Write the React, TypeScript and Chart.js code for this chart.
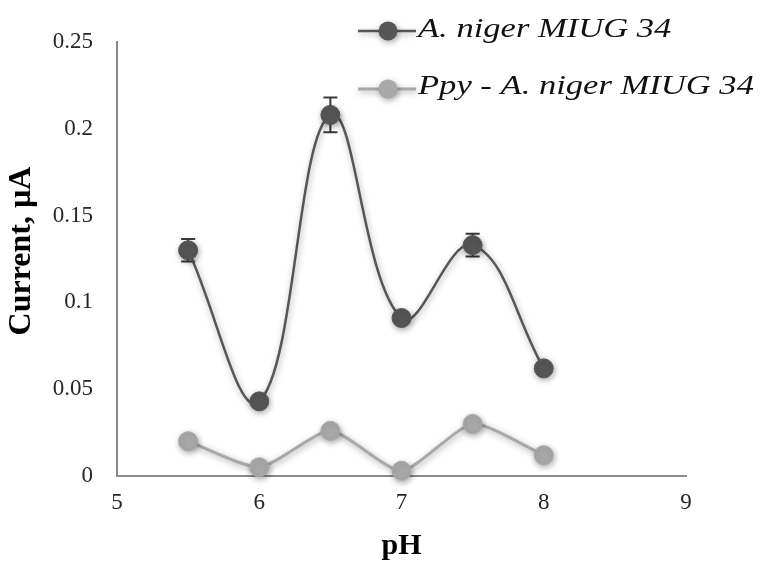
import React, { useEffect, useRef } from 'react';
import { Chart, registerables } from 'chart.js';

Chart.register(...registerables);

// pH values at which the current was measured
const phValues = [5.5, 6, 6.5, 7, 7.5, 8];
// A. niger MIUG 34 – current (µA) and its standard deviation
const nigerCurrent = [0.13, 0.043, 0.208, 0.091, 0.133, 0.062];
const nigerError = [0.0065, 0.003, 0.01, 0.003, 0.0065, 0.003];
// Ppy - A. niger MIUG 34 – current (µA)
const ppyCurrent = [0.02, 0.005, 0.026, 0.003, 0.03, 0.012];

const xTickLabels = ['5', '6', '7', '8', '9'];
const yTickLabels = ['0', '0.05', '0.1', '0.15', '0.2', '0.25'];
const seriesNames = ['A. niger MIUG 34', 'Ppy - A. niger MIUG 34'];

const DARK = '#565656';
const LIGHT = '#a9a9a9';
const SERIF = "'Liberation Serif', serif";

function setShadow(ctx: CanvasRenderingContext2D) {
  ctx.shadowColor = 'rgba(0,0,0,0.35)';
  ctx.shadowBlur = 6;
  ctx.shadowOffsetX = 1;
  ctx.shadowOffsetY = 2;
}

// Vertical error bars with caps, drawn under the markers
const errorBarPlugin = {
  id: 'errorBars',
  beforeDatasetsDraw(chart: any) {
    const { ctx, scales } = chart;
    const x = scales.x;
    const y = scales.y;
    ctx.save();
    ctx.strokeStyle = '#3a3a3a';
    ctx.lineWidth = 2;
    nigerCurrent.forEach((v, i) => {
      const e = nigerError[i];
      const px = x.getPixelForValue(phValues[i]);
      const top = y.getPixelForValue(v + e);
      const bottom = y.getPixelForValue(v - e);
      ctx.beginPath();
      ctx.moveTo(px, top);
      ctx.lineTo(px, bottom);
      ctx.moveTo(px - 7, top);
      ctx.lineTo(px + 7, top);
      ctx.moveTo(px - 7, bottom);
      ctx.lineTo(px + 7, bottom);
      ctx.stroke();
    });
    ctx.restore();
    // soft drop shadow for lines and markers
    ctx.save();
    setShadow(ctx);
  },
  afterDatasetsDraw(chart: any) {
    chart.ctx.restore();
  },
};

// Legend in the top-right corner, overlapping the plot
const legendPlugin = {
  id: 'cornerLegend',
  afterDraw(chart: any) {
    const { ctx } = chart;
    const rows = [
      { y: 31, textY: 30, color: DARK, width: 2.5, text: seriesNames[0] },
      { y: 89, textY: 87, color: LIGHT, width: 3, text: seriesNames[1] },
    ];
    rows.forEach((r) => {
      ctx.save();
      setShadow(ctx);
      ctx.strokeStyle = r.color;
      ctx.lineWidth = r.width;
      ctx.beginPath();
      ctx.moveTo(358, r.y);
      ctx.lineTo(416, r.y);
      ctx.stroke();
      ctx.fillStyle = r.color;
      ctx.beginPath();
      ctx.arc(388, r.y, 9.5, 0, Math.PI * 2);
      ctx.fill();
      ctx.restore();

      ctx.save();
      ctx.translate(418, r.textY);
      ctx.scale(1.28, 1);
      ctx.font = `italic 27px ${SERIF}`;
      ctx.fillStyle = '#111111';
      ctx.textAlign = 'left';
      ctx.textBaseline = 'middle';
      ctx.fillText(r.text, 0, 0);
      ctx.restore();
    });
  },
};

function buildChart(canvas: HTMLCanvasElement) {
  return new Chart(canvas, {
    type: 'line',
    data: {
      datasets: [
        {
          label: seriesNames[0],
          data: phValues.map((p, i) => ({ x: p, y: nigerCurrent[i] })),
          borderColor: DARK,
          backgroundColor: DARK,
          borderWidth: 2.5,
          pointRadius: 9.5,
          pointBackgroundColor: DARK,
          pointBorderColor: DARK,
          pointBorderWidth: 1,
          tension: 0.4,
          clip: false,
        },
        {
          label: seriesNames[1],
          data: phValues.map((p, i) => ({ x: p, y: ppyCurrent[i] })),
          borderColor: LIGHT,
          backgroundColor: LIGHT,
          borderWidth: 3,
          pointRadius: 9.5,
          pointBackgroundColor: LIGHT,
          pointBorderColor: LIGHT,
          pointBorderWidth: 1,
          tension: 0.2,
          clip: false,
        },
      ],
    },
    options: {
      animation: false,
      responsive: false,
      maintainAspectRatio: false,
      devicePixelRatio: 1,
      layout: { padding: { top: 42, right: 74, bottom: 0, left: 0 } },
      plugins: {
        legend: { display: false },
        tooltip: { enabled: false },
      },
      scales: {
        x: {
          type: 'linear',
          min: 5,
          max: 9,
          grid: { display: false, drawTicks: false },
          border: { display: true, color: '#8a8a8a', width: 2 },
          ticks: {
            stepSize: 1,
            padding: 13,
            color: '#262626',
            font: { family: SERIF, size: 23 },
            callback: (_v: any, i: number) => xTickLabels[i],
          },
          title: {
            display: true,
            text: 'pH',
            color: '#000000',
            font: { family: SERIF, size: 30, weight: 'bold' },
            padding: { top: 0, bottom: 0 },
          },
          afterFit: (s: any) => {
            s.height = 88;
          },
        },
        y: {
          type: 'linear',
          min: 0,
          max: 0.25,
          grid: { display: false, drawTicks: false },
          border: { display: true, color: '#8a8a8a', width: 2 },
          ticks: {
            stepSize: 0.05,
            padding: 24,
            color: '#262626',
            font: { family: SERIF, size: 23 },
            callback: (_v: any, i: number) => yTickLabels[i],
          },
          title: {
            display: true,
            // two leading spaces lift the rotated title slightly above centre
            text: '\u00a0\u00a0Current, µA',
            color: '#000000',
            font: { family: SERIF, size: 32, weight: 'bold' },
            padding: { top: 3, bottom: 0 },
          },
          afterFit: (s: any) => {
            s.width = 117;
          },
        },
      },
    },
    plugins: [errorBarPlugin, legendPlugin],
  } as any);
}

export default function App() {
  const canvasRef = useRef<HTMLCanvasElement | null>(null);

  useEffect(() => {
    const canvas = canvasRef.current;
    if (!canvas) return;
    let chart: Chart | null = null;
    let cancelled = false;
    const faces = [
      `23px ${SERIF}`,
      `bold 30px ${SERIF}`,
      `italic 27px ${SERIF}`,
    ];
    const ready = (document as any).fonts
      ? Promise.all(faces.map((f) => (document as any).fonts.load(f))).catch(() => null)
      : Promise.resolve(null);
    ready.then(() => {
      if (!cancelled) chart = buildChart(canvas);
    });
    return () => {
      cancelled = true;
      if (chart) chart.destroy();
    };
  }, []);

  return (
    <div style={{ position: 'fixed', left: 0, top: 0, width: 760, height: 564, background: '#ffffff' }}>
      <canvas ref={canvasRef} width={760} height={564} style={{ width: 760, height: 564, display: 'block' }} />
    </div>
  );
}
